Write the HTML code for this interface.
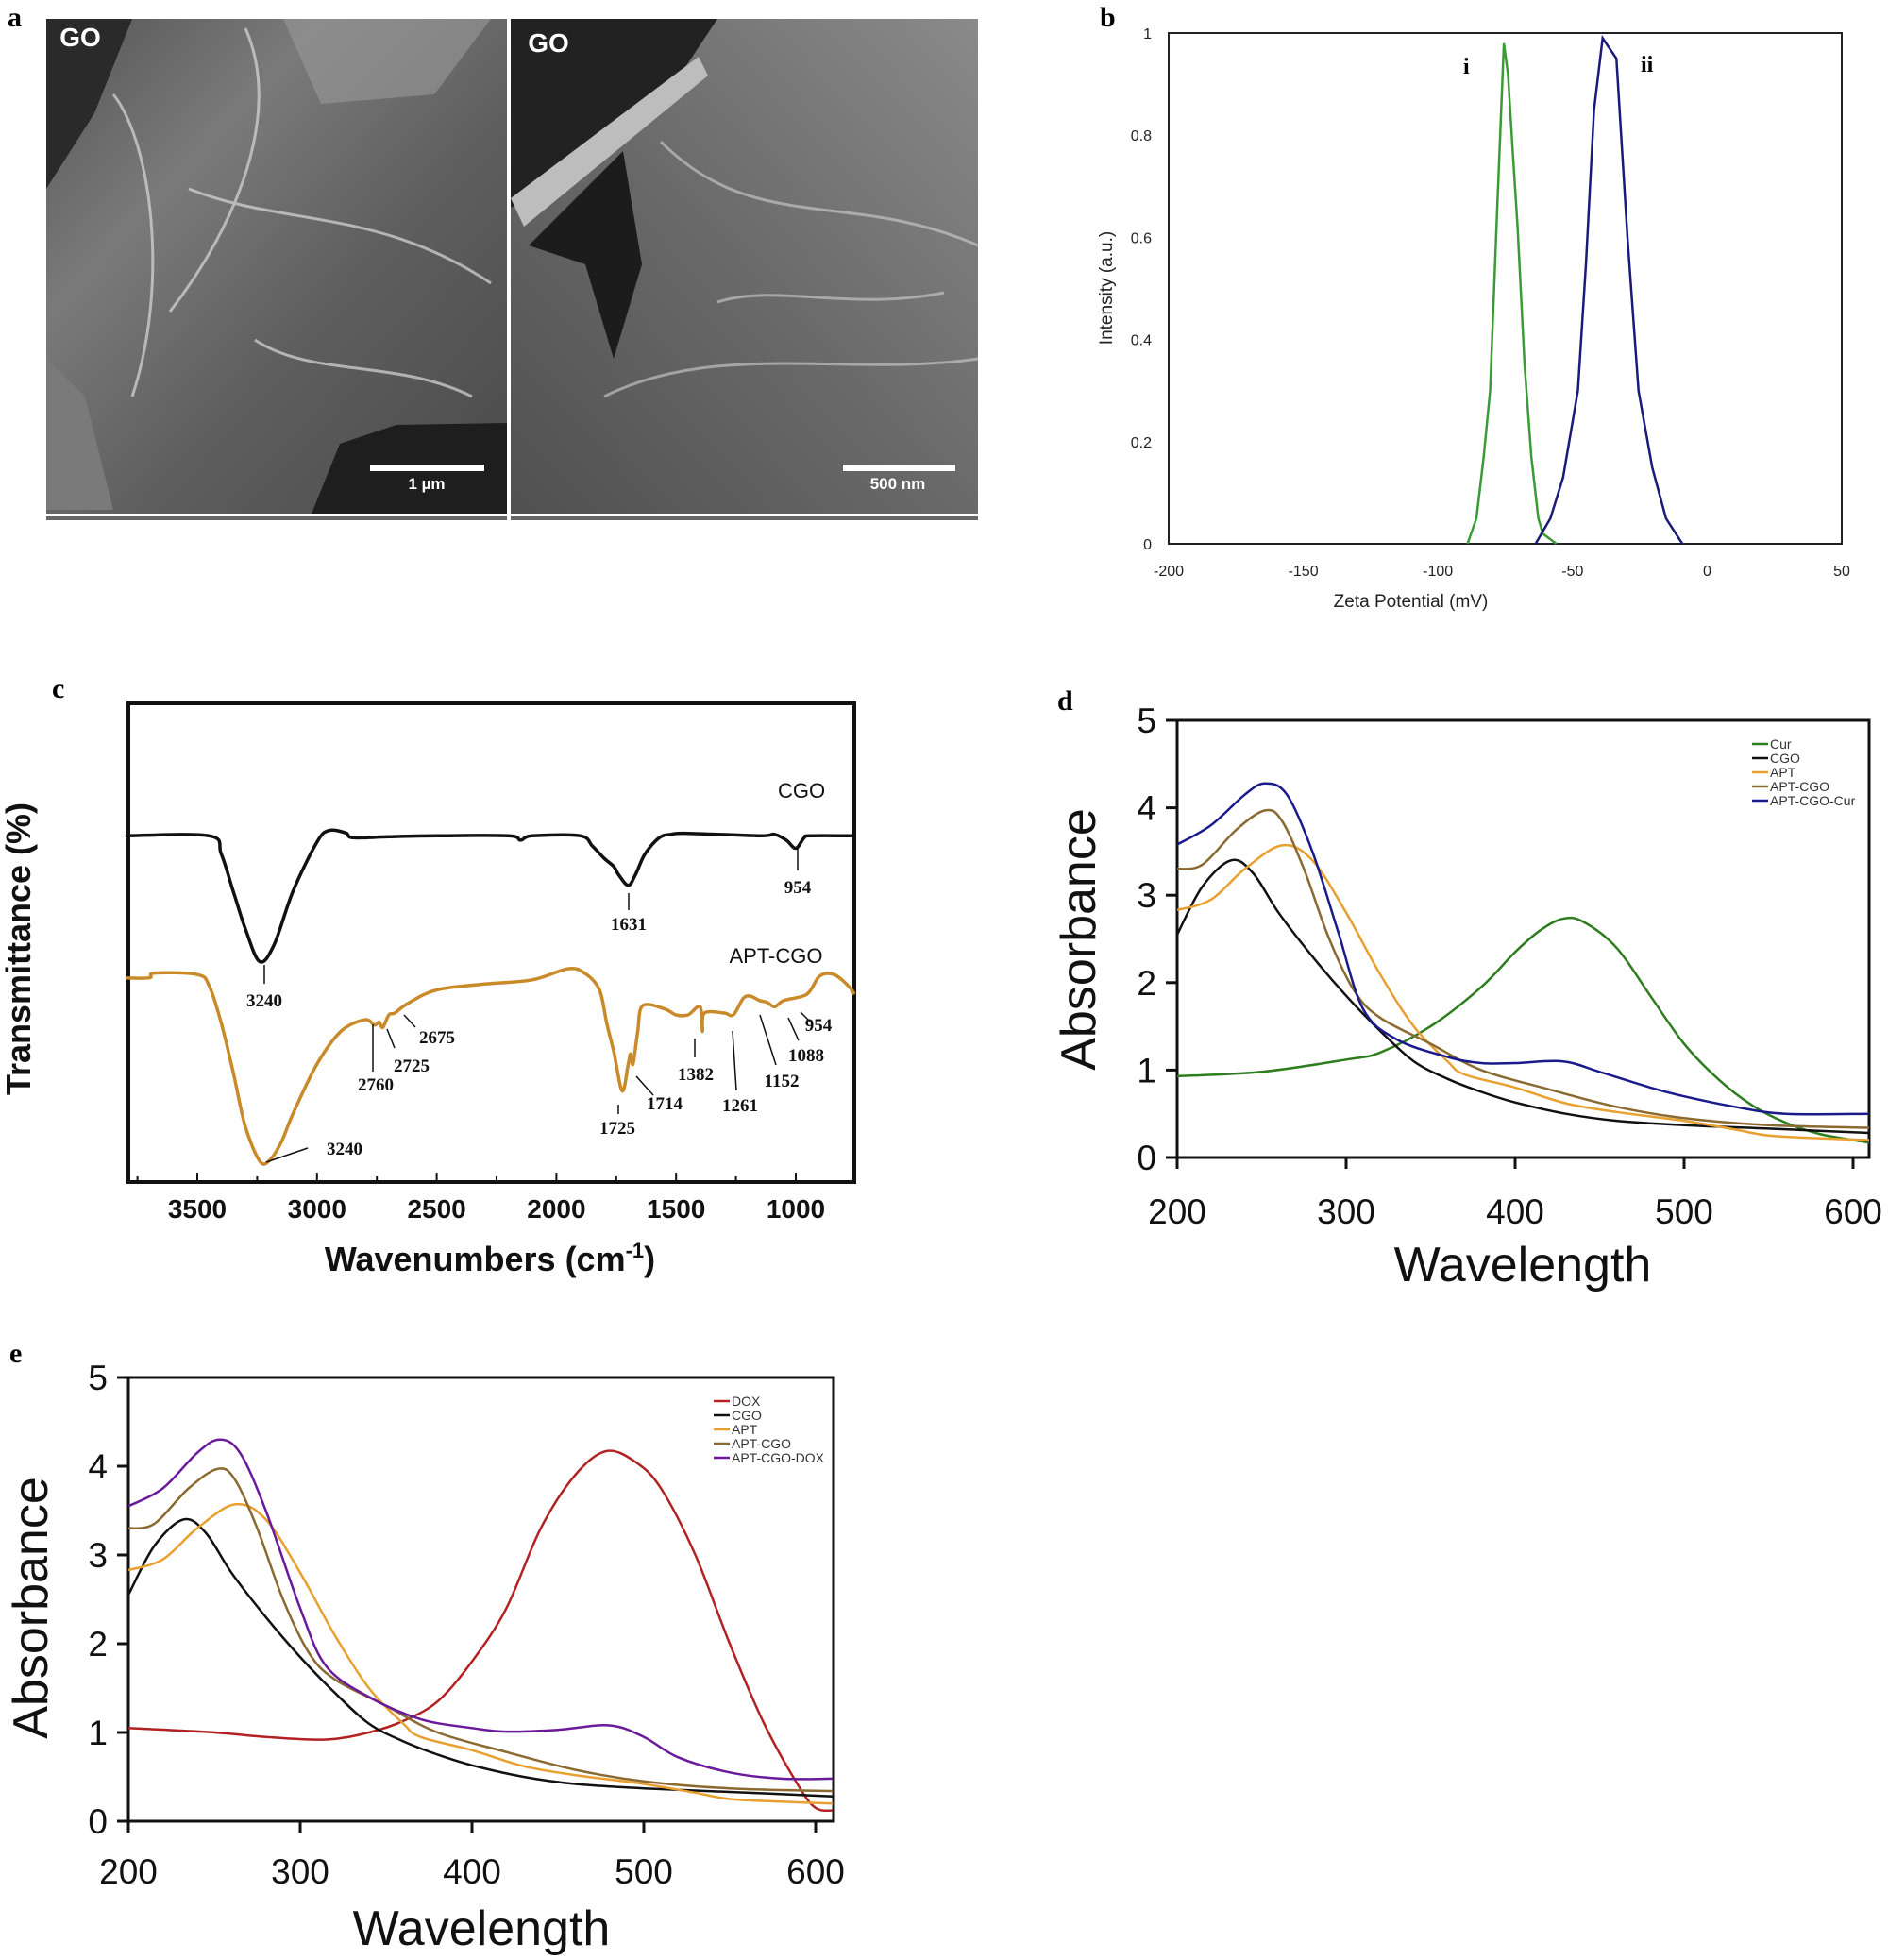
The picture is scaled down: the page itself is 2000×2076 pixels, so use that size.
<!DOCTYPE html>
<html><head><meta charset="utf-8"><style>
html,body{margin:0;padding:0;background:#fff;}
svg{display:block;font-family:"Liberation Sans",sans-serif;}
.ser{font-family:"Liberation Serif",serif;font-weight:bold;}
</style></head><body>
<svg id="fig" width="2000" height="2076" viewBox="0 0 2000 2076">
<defs>
<linearGradient id="sem1" x1="0" y1="0" x2="1" y2="1"><stop offset="0" stop-color="#555"/><stop offset="0.3" stop-color="#7a7a7a"/><stop offset="0.6" stop-color="#5e5e5e"/><stop offset="1" stop-color="#4a4a4a"/></linearGradient>
<linearGradient id="sem2" x1="1" y1="0" x2="0" y2="1"><stop offset="0" stop-color="#8a8a8a"/><stop offset="0.5" stop-color="#6a6a6a"/><stop offset="1" stop-color="#505050"/></linearGradient>
</defs>
<g>
<text class="ser" x="8" y="28" font-size="30">a</text>
<g>
<rect x="49" y="20" width="488" height="524" fill="url(#sem1)"/>
<path d="M49 20 L140 20 L100 120 L49 200 Z" fill="#2a2a2a"/>
<path d="M49 540 L49 380 L90 420 L120 540 Z" fill="#7a7a7a"/>
<path d="M330 544 L360 470 L420 450 L537 448 L537 544 Z" fill="#1e1e1e"/>
<path d="M120 100 C160 150 180 300 140 420 M260 30 C300 120 250 240 180 330 M200 200 C300 240 400 220 520 300 M270 360 C330 400 420 380 500 420" stroke="#d8d8d8" stroke-width="3" fill="none" opacity="0.7"/>
<path d="M300 20 L520 20 L460 100 L340 110 Z" fill="#9a9a9a" opacity="0.6"/>
</g>
<g>
<rect x="541" y="20" width="495" height="524" fill="url(#sem2)"/>
<path d="M541 20 L760 20 L700 110 L600 190 L541 220 Z" fill="#222"/>
<path d="M560 260 L660 160 L680 280 L650 380 L620 280 Z" fill="#1c1c1c"/>
<path d="M541 210 L740 60 L750 80 L555 240 Z" fill="#bdbdbd"/>
<path d="M700 150 C800 250 900 200 1036 260 M640 420 C760 360 900 400 1036 380 M760 320 C820 300 900 330 1000 310" stroke="#d0d0d0" stroke-width="3" fill="none" opacity="0.6"/>
</g>
<rect x="49" y="547" width="488" height="4" fill="#666"/>
<rect x="541" y="547" width="495" height="4" fill="#666"/>
<text x="85" y="49" font-size="28" font-weight="bold" fill="#fff" text-anchor="middle">GO</text>
<text x="581" y="55" font-size="28" font-weight="bold" fill="#fff" text-anchor="middle">GO</text>
<rect x="392" y="492" width="121" height="7" fill="#fff"/>
<text x="452" y="518" font-size="17" font-weight="bold" fill="#fff" text-anchor="middle">1 µm</text>
<rect x="893" y="492" width="119" height="7" fill="#fff"/>
<text x="951" y="518" font-size="17" font-weight="bold" fill="#fff" text-anchor="middle">500 nm</text>
</g>
<text class="ser" x="1165" y="28" font-size="30">b</text>
<text class="ser" x="55" y="739" font-size="30">c</text>
<text class="ser" x="1120" y="752" font-size="30">d</text>
<text class="ser" x="10" y="1443" font-size="30">e</text>
<g id="gb"></g>
<g id="gc"></g>
<g id="gd"></g>
<g id="ge"></g>
</svg>
<script>
// ---------- Panel b data ----------
const bXTicks=[-200,-150,-100,-50,0,50];
const bYTicks=[0,0.2,0.4,0.6,0.8,1];
const bYTickLabels=["0","0.2","0.4","0.6","0.8","1"];
const bGreenX=[-89,-85.7,-83,-80.6,-78,-75.5,-74,-72,-70.4,-67.8,-65.3,-62.7,-61,-56];
const bGreenY=[0,0.05,0.17,0.3,0.65,0.98,0.92,0.75,0.62,0.35,0.17,0.05,0.02,0];
const bBlueX=[-63.7,-58.2,-53.5,-48,-45,-42,-38.8,-33.7,-29.6,-25.5,-20.4,-15.3,-9.2];
const bBlueY=[0,0.05,0.13,0.3,0.55,0.85,0.99,0.95,0.6,0.3,0.15,0.05,0];
// ---------- Panel c data ----------
const cXTicks=[3500,3000,2500,2000,1500,1000];
const cCgoX=[3800,3450,3400,3350,3300,3240,3180,3100,3000,2950,2880,2850,2700,2500,2200,2150,2100,1900,1850,1800,1760,1740,1700,1670,1630,1570,1520,1450,1150,1090,1040,1000,965,940,755];
const cCgoY=[72.3,72.3,68.5,60.8,53.1,46.2,49.6,60.8,71.0,73.4,72.9,71.9,72.1,72.3,72.3,71.4,72.3,72.3,70.2,67.6,65.9,64.2,62.0,64.2,68.5,71.9,72.6,72.8,72.3,72.6,71.4,69.7,71.9,72.3,72.3];
const cAptX=[3800,3700,3680,3500,3450,3400,3350,3300,3240,3200,3150,3100,3000,2900,2800,2760,2740,2725,2700,2675,2620,2500,2300,2100,1950,1880,1820,1790,1760,1725,1700,1690,1680,1660,1640,1550,1500,1450,1400,1390,1382,1300,1261,1220,1190,1152,1120,1088,1050,954,900,840,780,755];
const cAptY=[42.8,42.8,43.8,43.5,41.1,33.4,23.2,12.0,4.8,4.8,8.6,14.6,24.9,31.7,34.1,33.0,33.6,32.5,35.1,35.5,37.5,40.3,41.5,42.4,44.7,43.7,40.3,33.4,27.4,19.3,24.9,27.0,24.9,31.7,37.0,36.4,35.1,35.1,36.8,31.7,35.5,35.5,35.1,38.5,39.0,38.1,37.7,36.8,38.1,39.4,43.2,43.5,41.1,39.4];
const cLabels=["3240","1631","954","3240","2760","2725","2675","1725","1714","1382","1261","1152","1088","954"];
const cLabelWn=[3240,1631,954,3240,2760,2725,2675,1725,1714,1382,1261,1152,1088,954];
// ---------- Panel d data ----------
const uvXTicks=[200,300,400,500,600];
const uvYTicks=[0,1,2,3,4,5];
const dNames=["Cur","CGO","APT","APT-CGO","APT-CGO-Cur"];
const curX=[200,250,300,320,350,380,400,415,428,440,460,480,500,520,540,560,580,600,610];
const curY=[0.93,0.98,1.12,1.2,1.5,1.95,2.35,2.6,2.73,2.7,2.4,1.85,1.3,0.9,0.6,0.4,0.27,0.2,0.17];
const cgoX=[200,215,232,245,260,280,300,320,340,360,380,400,430,460,500,550,610];
const cgoY=[2.55,3.1,3.4,3.25,2.8,2.3,1.85,1.45,1.1,0.9,0.75,0.63,0.5,0.42,0.37,0.33,0.28];
const aptX=[200,220,240,262,280,300,320,340,360,370,400,430,460,500,530,550,580,610];
const aptY=[2.83,2.95,3.3,3.57,3.4,2.8,2.1,1.5,1.1,0.95,0.8,0.62,0.52,0.42,0.32,0.25,0.22,0.2];
const aptCgoX=[200,215,235,252,262,275,290,305,320,350,380,420,460,500,550,610];
const aptCgoY=[3.3,3.35,3.75,3.97,3.85,3.3,2.5,1.9,1.6,1.3,1.0,0.78,0.58,0.45,0.37,0.34];
const aptCgoCurX=[200,220,240,252,265,280,295,310,330,360,380,400,428,450,480,500,530,560,610];
const aptCgoCurY=[3.58,3.8,4.15,4.28,4.15,3.5,2.6,1.7,1.35,1.15,1.08,1.08,1.1,0.98,0.8,0.7,0.58,0.5,0.5];
// ---------- Panel e data ----------
const eNames=["DOX","CGO","APT","APT-CGO","APT-CGO-DOX"];
const doxX=[200,250,280,315,340,360,380,400,420,440,460,478,495,510,530,550,570,590,600,610];
const doxY=[1.05,1.0,0.95,0.92,1.0,1.13,1.35,1.8,2.4,3.3,3.9,4.17,4.05,3.75,3.0,2.0,1.1,0.4,0.15,0.12];
const aptCgoDoxX=[200,220,240,253,265,280,300,315,340,370,400,420,450,480,500,520,550,580,610];
const aptCgoDoxY=[3.55,3.75,4.15,4.3,4.15,3.5,2.4,1.75,1.4,1.15,1.05,1.01,1.03,1.08,0.95,0.72,0.55,0.48,0.48];

const NS="http://www.w3.org/2000/svg";
function mk(parent,tag,attrs){const e=document.createElementNS(NS,tag);for(const k in attrs)e.setAttribute(k,attrs[k]);parent.appendChild(e);return e;}
function lin(d0,d1,r0,r1){return v=>r0+(v-d0)*(r1-r0)/(d1-d0);}
function smooth(pts){let d="M"+pts[0][0].toFixed(1)+" "+pts[0][1].toFixed(1);
 for(let i=0;i<pts.length-1;i++){const p0=pts[Math.max(0,i-1)],p1=pts[i],p2=pts[i+1],p3=pts[Math.min(pts.length-1,i+2)];
 const c1=[p1[0]+(p2[0]-p0[0])/6,p1[1]+(p2[1]-p0[1])/6],c2=[p2[0]-(p3[0]-p1[0])/6,p2[1]-(p3[1]-p1[1])/6];
 d+=" C"+c1[0].toFixed(1)+" "+c1[1].toFixed(1)+" "+c2[0].toFixed(1)+" "+c2[1].toFixed(1)+" "+p2[0].toFixed(1)+" "+p2[1].toFixed(1);}return d;}
function poly(pts){return "M"+pts.map(p=>p[0].toFixed(1)+" "+p[1].toFixed(1)).join(" L");}
function txt(g,x,y,s,attrs){const t=mk(g,"text",Object.assign({x:x,y:y},attrs));t.textContent=s;return t;}

// ===== Panel b =====
(function(){
 const g=document.getElementById("gb");
 const L=1238,R=1951,T=35,B=576;
 const X=lin(-200,50,L,R),Y=lin(0,1,B,T);
 const fr=mk(g,"rect",{x:L,y:T,width:R-L,height:B-T,fill:"none",stroke:"#222","stroke-width":2});
 
 
 bXTicks.forEach(v=>{const t=txt(g,X(v),610,String(v),{"font-size":16,"text-anchor":"middle",fill:"#222"});
  
  });
 bYTicks.forEach((v,i)=>{const t=txt(g,L-18,Y(v)+6,bYTickLabels[i],{"font-size":16,"text-anchor":"end",fill:"#222"});
  
  });
 const xt=txt(g,(L+R)/2-100,643,"Zeta Potential (mV)",{"font-size":19,"text-anchor":"middle",fill:"#222"});
 
 
 const yt=txt(g,0,0,"Intensity (a.u.)",{"font-size":19,"text-anchor":"middle",fill:"#222",transform:"translate(1178,305) rotate(-90)"});
 
 
 const p1=mk(g,"path",{d:poly(bGreenX.map((x,i)=>[X(x),Y(bGreenY[i])])),fill:"none",stroke:"#3a9a35","stroke-width":2.5});
 
 
 const p2=mk(g,"path",{d:poly(bBlueX.map((x,i)=>[X(x),Y(bBlueY[i])])),fill:"none",stroke:"#1a1a7a","stroke-width":2.5});
 
 
 const li=txt(g,1550,78,"i",{"font-size":24,"class":"ser"});
 
 
 const lii=txt(g,1738,76,"ii",{"font-size":24,"class":"ser"});
 
 
})();

// ===== Panel c =====
(function(){
 const g=document.getElementById("gc");
 const L=136,R=905,T=745,B=1252;
 const X=lin(3500,1000,209,843),Y=lin(0,100,1254,744);
 const fr=mk(g,"rect",{x:L,y:T,width:R-L,height:B-T,fill:"none",stroke:"#111","stroke-width":4});
 
 
 for(let v=3750;v>=800;v-=250){const tk=mk(g,"line",{x1:X(v),x2:X(v),y1:B,y2:B-(v%500===0?10:6),stroke:"#111","stroke-width":2});
  
  }
 cXTicks.forEach(v=>{const t=txt(g,X(v),1290,String(v),{"font-size":28,"font-weight":"bold","text-anchor":"middle",fill:"#111"});
  
  });
 const xt=mk(g,"text",{x:519,y:1346,"font-size":36,"font-weight":"bold","text-anchor":"middle",fill:"#111"});
 xt.innerHTML='Wavenumbers (cm<tspan dy="-14" font-size="22">-1</tspan><tspan dy="14">)</tspan>';
 
 
 const yt=txt(g,0,0,"Transmittance (%)",{"font-size":36,"font-weight":"bold","text-anchor":"middle",fill:"#111",transform:"translate(32,1005) rotate(-90)"});
 
 
 const s1=mk(g,"path",{d:smooth(cCgoX.map((x,i)=>[X(x),Y(cCgoY[i])])),fill:"none",stroke:"#111","stroke-width":3.5});
 
 
 const s2=mk(g,"path",{d:smooth(cAptX.map((x,i)=>[X(x),Y(cAptY[i])])),fill:"none",stroke:"#c98a2a","stroke-width":3.5});
 
 
 const n1=txt(g,849,845,"CGO",{"font-size":22,"text-anchor":"middle",fill:"#111"});
 
 
 const n2=txt(g,822,1020,"APT-CGO",{"font-size":22,"text-anchor":"middle",fill:"#111"});
 
 
 const pos=[[280,1066],[666,985],[845,946],[365,1223],[398,1155],[436,1135],[463,1105],[654,1201],[704,1175],[737,1144],[784,1177],[828,1151],[854,1124],[867,1092]];
 const lead=[[[280,1022],[280,1042]],[[666,946],[666,964]],[[845,898],[845,922]],[[282,1231],[326,1216]],[[395,1085],[395,1135]],[[410,1090],[418,1110]],[[428,1075],[440,1088]],[[655,1170],[655,1180]],[[674,1140],[692,1160]],[[736,1100],[736,1120]],[[776,1092],[780,1155]],[[805,1075],[822,1128]],[[835,1078],[846,1102]],[[848,1072],[858,1082]]];
 cLabels.forEach((s,i)=>{const t=txt(g,pos[i][0],pos[i][1],s,{"font-size":19,"text-anchor":"middle","class":"ser",fill:"#111"});
  
  
  const l=mk(g,"line",{x1:lead[i][0][0],y1:lead[i][0][1],x2:lead[i][1][0],y2:lead[i][1][1],stroke:"#111","stroke-width":1.5});
  
  });
})();

// ===== UV-vis panels =====
function uvPanel(g,L,R,T,B,x600,names,colors,xs,ys,legX,legY0,legDy,titleX,titleY,tickY,titleYc,id){
 const X=lin(200,600,L,x600),Y=lin(0,5,B,T);
 const ax=mk(g,"path",{d:`M${L} ${T} L${R} ${T} L${R} ${B} L${L} ${B} Z`,fill:"none",stroke:"#111","stroke-width":3});
 
 
 uvXTicks.forEach(v=>{const l=mk(g,"line",{x1:X(v),x2:X(v),y1:B,y2:B+12,stroke:"#111","stroke-width":3});
  
  
  const t=txt(g,X(v),tickY,String(v),{"font-size":37,"text-anchor":"middle",fill:"#111"});
  
  });
 uvYTicks.forEach(v=>{const l=mk(g,"line",{x1:L-12,x2:L,y1:Y(v),y2:Y(v),stroke:"#111","stroke-width":3});
  
  
  const t=txt(g,L-22,Y(v)+13,String(v),{"font-size":37,"text-anchor":"end",fill:"#111"});
  
  });
 const xt=txt(g,titleX,titleY,"Wavelength",{"font-size":52,"text-anchor":"middle",fill:"#111"});
 
 
 const yt=txt(g,0,0,"Absorbance",{"font-size":52,"text-anchor":"middle",fill:"#111",transform:`translate(${titleYc[0]},${titleYc[1]}) rotate(-90)`});
 
 
 const clip=mk(g,"clipPath",{id:"clip"+id});mk(clip,"rect",{x:L,y:T,width:R-L,height:B-T});
 xs.forEach((xa,k)=>{const p=mk(g,"path",{d:smooth(xa.map((x,i)=>[X(x),Y(ys[k][i])])),fill:"none",stroke:colors[k],"stroke-width":2.5,"clip-path":`url(#clip${id})`});
  
  });
 names.forEach((n,k)=>{const y=legY0+k*legDy;
  const l=mk(g,"line",{x1:legX,x2:legX+17,y1:y,y2:y,stroke:colors[k],"stroke-width":2.5});
  
  
  const t=txt(g,legX+19,y+5,n,{"font-size":14,fill:"#333"});
  
  });
}
uvPanel(document.getElementById("gd"),1247,1980,763,1226,1963,dNames,["#2e7d1f","#111","#e8a030","#8a6a30","#1a1a8c"],
 [curX,cgoX,aptX,aptCgoX,aptCgoCurX],[curY,cgoY,aptY,aptCgoY,aptCgoCurY],1856,788,15,1613,1357,1296,[1160,995],"d");
uvPanel(document.getElementById("ge"),136,883,1459,1929,864,eNames,["#b22222","#111","#e8a030","#8a6a30","#6a1a9a"],
 [doxX,cgoX,aptX,aptCgoX,aptCgoDoxX],[doxY,cgoY,aptY,aptCgoY,aptCgoDoxY],756,1484,15,510,2060,1995,[50,1703],"e");
</script>
</body></html>
